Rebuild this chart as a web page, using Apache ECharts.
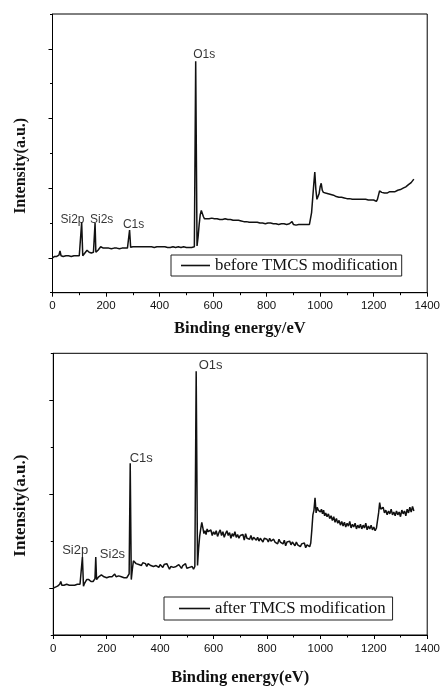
<!DOCTYPE html>
<html>
<head>
<meta charset="utf-8">
<script src="https://cdn.jsdelivr.net/npm/echarts@6/dist/echarts.min.js"></script>
<style>
html,body{margin:0;padding:0;background:#fff;}
#chart{width:443px;height:687px;}
</style>
</head>
<body>
<div id="chart"></div>
<script>
// Binding energy (eV), shared by both spectra
const energy = [
0,4,8,12,16,20,24,28,32,36,
40,45,50,55,60,65,70,75,80,85,
90,95,100,105,109,113,117,121,125,129,
133,137,141,145,149,153,156,159,162,166,
170,175,180,185,190,195,200,205,210,215,
220,225,230,235,240,245,250,255,260,265,
270,275,280,284,288,292,296,300,305,310,
315,320,325,330,335,340,345,350,355,360,
365,370,375,380,385,390,395,400,405,410,
415,420,425,430,435,440,445,450,455,460,
465,470,475,480,485,490,495,500,505,510,
515,520,525,530,535,540,544,548,552,556,
560,564,568,572,576,580,585,590,595,600,
605,610,615,620,625,630,635,640,645,650,
655,660,665,670,675,680,685,690,695,700,
705,710,715,720,725,730,735,740,745,750,
755,760,765,770,775,780,785,790,795,800,
805,810,815,820,825,830,835,840,845,850,
855,860,865,870,875,880,885,890,895,900,
905,910,915,920,925,930,935,940,945,950,
955,960,964,968,972,976,980,984,988,992,
996,1000,1004,1008,1012,1016,1020,1025,1030,1035,
1040,1045,1050,1055,1060,1065,1070,1075,1080,1085,
1090,1095,1100,1105,1110,1115,1120,1125,1130,1135,
1140,1145,1150,1155,1160,1165,1170,1175,1180,1185,
1190,1195,1200,1205,1210,1214,1218,1222,1226,1230,
1235,1240,1245,1250,1255,1260,1265,1270,1275,1280,
1285,1290,1295,1300,1305,1310,1315,1320,1325,1330,
1335,1340,1345,1350
];

// Intensity (a.u.) before TMCS modification
const intensityBefore = [
0.00,0.01,0.02,0.02,0.02,0.02,0.04,0.10,0.03,0.02,
0.02,0.02,0.03,0.02,0.03,0.03,0.02,0.03,0.03,0.03,
0.03,0.03,0.03,0.04,0.51,0.03,0.05,0.07,0.09,0.11,
0.10,0.08,0.07,0.07,0.07,0.08,0.09,0.50,0.08,0.10,
0.11,0.13,0.16,0.15,0.14,0.14,0.14,0.13,0.14,0.14,
0.13,0.14,0.14,0.13,0.14,0.14,0.13,0.14,0.14,0.13,
0.14,0.14,0.14,0.16,0.40,0.15,0.15,0.16,0.17,0.16,
0.16,0.16,0.17,0.16,0.16,0.16,0.15,0.16,0.16,0.16,
0.15,0.16,0.16,0.15,0.16,0.16,0.15,0.16,0.15,0.16,
0.15,0.16,0.15,0.15,0.16,0.15,0.15,0.16,0.15,0.15,
0.15,0.16,0.15,0.15,0.15,0.16,0.15,0.15,0.15,0.15,
0.15,0.15,0.14,0.16,2.82,0.17,0.30,0.48,0.62,0.68,
0.66,0.59,0.56,0.57,0.56,0.57,0.56,0.56,0.57,0.56,
0.56,0.55,0.56,0.56,0.55,0.56,0.55,0.55,0.56,0.55,
0.55,0.54,0.55,0.54,0.54,0.55,0.54,0.53,0.54,0.53,
0.53,0.53,0.52,0.53,0.52,0.52,0.51,0.52,0.51,0.51,
0.51,0.50,0.51,0.50,0.50,0.51,0.50,0.50,0.49,0.50,
0.50,0.49,0.50,0.49,0.49,0.50,0.49,0.49,0.48,0.49,
0.49,0.48,0.49,0.48,0.48,0.47,0.49,0.48,0.52,0.48,
0.48,0.47,0.48,0.48,0.47,0.48,0.47,0.48,0.47,0.48,
0.47,0.48,0.50,0.65,0.85,1.05,1.23,0.98,0.84,0.86,
0.92,1.02,1.07,0.97,0.94,0.95,0.93,0.94,0.92,0.92,
0.91,0.90,0.90,0.89,0.88,0.88,0.87,0.88,0.87,0.86,
0.86,0.86,0.85,0.86,0.85,0.85,0.84,0.85,0.84,0.84,
0.84,0.83,0.84,0.83,0.84,0.83,0.84,0.83,0.83,0.84,
0.83,0.84,0.83,0.84,0.81,0.84,0.90,0.96,0.95,0.94,
0.95,0.93,0.94,0.93,0.94,0.95,0.94,0.95,0.96,0.95,
0.96,0.97,0.96,0.98,0.99,1.00,1.01,1.02,1.03,1.05,
1.06,1.08,1.10,1.13
];

// Intensity (a.u.) after TMCS modification
const intensityAfter = [
0.00,0.02,0.01,0.02,0.02,0.03,0.04,0.07,0.03,0.03,
0.03,0.02,0.04,0.03,0.03,0.04,0.03,0.04,0.03,0.04,
0.04,0.03,0.04,0.05,0.33,0.02,0.05,0.07,0.09,0.08,
0.09,0.07,0.07,0.08,0.07,0.08,0.10,0.33,0.09,0.10,
0.12,0.13,0.14,0.12,0.12,0.13,0.11,0.13,0.12,0.14,
0.12,0.13,0.15,0.12,0.14,0.13,0.11,0.12,0.13,0.11,
0.12,0.11,0.12,0.15,1.33,0.09,0.20,0.29,0.27,0.26,
0.28,0.25,0.27,0.24,0.27,0.25,0.26,0.23,0.26,0.25,
0.24,0.26,0.23,0.25,0.24,0.26,0.22,0.25,0.24,0.22,
0.25,0.23,0.26,0.24,0.20,0.23,0.25,0.22,0.24,0.23,
0.22,0.25,0.23,0.21,0.24,0.22,0.26,0.21,0.23,0.22,
0.21,0.23,0.20,0.23,2.31,0.24,0.42,0.55,0.63,0.70,
0.64,0.58,0.61,0.57,0.63,0.60,0.58,0.62,0.56,0.60,
0.57,0.61,0.55,0.59,0.62,0.56,0.60,0.54,0.58,0.61,
0.56,0.59,0.53,0.58,0.55,0.60,0.54,0.57,0.53,0.56,
0.54,0.57,0.51,0.58,0.53,0.55,0.52,0.56,0.51,0.54,
0.55,0.51,0.54,0.50,0.53,0.55,0.49,0.53,0.51,0.52,
0.49,0.53,0.50,0.48,0.52,0.49,0.51,0.47,0.52,0.49,
0.50,0.47,0.51,0.45,0.49,0.47,0.50,0.46,0.49,0.47,
0.45,0.49,0.46,0.48,0.44,0.47,0.45,0.48,0.43,0.46,
0.45,0.44,0.48,0.62,0.78,0.83,0.96,0.80,0.86,0.83,
0.85,0.81,0.84,0.79,0.83,0.77,0.80,0.76,0.79,0.74,
0.77,0.72,0.76,0.70,0.74,0.69,0.72,0.67,0.71,0.66,
0.70,0.65,0.69,0.66,0.71,0.64,0.68,0.65,0.69,0.63,
0.67,0.64,0.68,0.63,0.67,0.64,0.69,0.62,0.66,0.63,
0.67,0.62,0.65,0.61,0.64,0.62,0.80,0.91,0.84,0.82,
0.86,0.80,0.83,0.78,0.82,0.79,0.84,0.78,0.81,0.77,
0.82,0.78,0.81,0.76,0.83,0.79,0.82,0.77,0.84,0.80,
0.86,0.81,0.87,0.82
];

// Peak annotations
const peakNames = ['Si2p', 'Si2s', 'C1s', 'O1s'];
const peakEnergy = [109, 159, 288, 535];
const peakBefore = [0.51, 0.50, 0.40, 2.82];
const peakAfter = [0.33, 0.33, 1.33, 2.31];

// Axis tick values
const xTickLabels = [0, 200, 400, 600, 800, 1000, 1200, 1400];
const yMajorBefore = [0, 1, 2, 3];
const yMinorBefore = [-0.5, 0.5, 1.5, 2.5, 3.5];
const yMajorAfter = [0, 1, 2];
const yMinorAfter = [-0.5, 0.5, 1.5, 2.5];

const seriesNames = ['before TMCS modification', 'after TMCS modification'];
const xTitles = ['Binding energy/eV', 'Binding energy(eV)'];
const yTitle = 'Intensity(a.u.)';

// ---- styling (not data) ----
const labelOffsetsBefore = [[-9.2, 3.1], [6.6, 2.4], [4, 1], [8.5, -0.8]];
const labelOffsetsAfter = [[-7.2, 0], [16.7, 3.9], [11, 1.4], [14.4, 0.9]];

const SANS = 'Liberation Sans, Arial, sans-serif';
const SERIF = 'Liberation Serif, Times New Roman, serif';
const INK = '#111';

function pairs(xs, ys) { return xs.map((x, i) => [x, ys[i]]); }

function xAxisFor(gi, title, gap, margin) {
  return {
    type: 'value', gridIndex: gi, min: 0, max: 1400, interval: 200,
    axisLine: { show: true, onZero: false, lineStyle: { color: '#000', width: 1 } },
    axisTick: { show: true, inside: false, length: 4, lineStyle: { color: '#000' } },
    minorTick: { show: true, splitNumber: 2, length: 2.5, lineStyle: { color: '#000' } },
    axisLabel: { show: true, fontSize: 11.5, fontFamily: SANS, color: '#111', margin: margin,
      formatter: function (v) { return xTickLabels.indexOf(v) >= 0 ? String(v) : ''; } },
    splitLine: { show: false }, minorSplitLine: { show: false },
    name: title, nameLocation: 'middle', nameGap: gap,
    nameTextStyle: { fontFamily: SERIF, fontWeight: 'bold', fontSize: 16.5, color: INK }
  };
}

function yAxesFor(gi, max, major, minor, nameSize, gap, shift) {
  return [{
    type: 'value', gridIndex: gi, min: -0.5, max: max, interval: 0.5, position: 'left',
    axisLine: { show: true, onZero: false, lineStyle: { color: '#000', width: 1 } },
    axisTick: { show: true, inside: false, length: 4, customValues: major, lineStyle: { color: '#000' } },
    axisLabel: { show: false },
    splitLine: { show: false },
    name: yTitle, nameLocation: 'middle', nameGap: gap, nameRotate: 90,
    nameTextStyle: { fontFamily: SERIF, fontWeight: 'bold', fontSize: nameSize, color: INK,
      padding: [0, shift, 0, 0] }
  }, {
    type: 'value', gridIndex: gi, min: -0.5, max: max, interval: 0.5, position: 'left', offset: 0,
    axisLine: { show: false },
    axisTick: { show: true, inside: false, length: 2.5, customValues: minor, lineStyle: { color: '#000' } },
    axisLabel: { show: false },
    splitLine: { show: false }
  }];
}

function peakSeries(xi, yi, heights, offsets, size) {
  return {
    type: 'scatter', xAxisIndex: xi, yAxisIndex: yi, symbolSize: 0, silent: true,
    data: peakEnergy.map((e, i) => ({
      value: [e, heights[i]], name: peakNames[i],
      label: { offset: offsets[i] }
    })),
    label: { show: true, position: 'top', distance: 0, formatter: '{b}',
      fontFamily: SANS, fontSize: size, color: '#000' },
    z: 5
  };
}

const chart = echarts.init(document.getElementById('chart'), null, { renderer: 'canvas' });
const yA = yAxesFor(0, 3.5, yMajorBefore, yMinorBefore, 16, 24, 25);
const yB = yAxesFor(1, 2.5, yMajorAfter, yMinorAfter, 17, 24, 23);

chart.setOption({
  animation: false,
  backgroundColor: '#fff',
  grid: [
    { left: 52.5, top: 14, right: 11.3, height: 278.7, show: true, borderColor: '#000', borderWidth: 1, backgroundColor: 'transparent' },
    { left: 53.3, top: 353.3, right: 8.7, height: 286.7, show: true, borderColor: '#000', borderWidth: 1, backgroundColor: 'transparent' }
  ],
  xAxis: [xAxisFor(0, xTitles[0], 28, 7), xAxisFor(1, xTitles[1], 34, 8)],
  yAxis: [yA[0], yA[1], yB[0], yB[1]],
  legend: [
    { data: [{ name: seriesNames[0], icon: 'rect' }], left: 171, top: 255, orient: 'horizontal',
      borderColor: '#222', borderWidth: 1, borderRadius: 0, padding: [2, 4, 2, 10],
      itemWidth: 29, itemHeight: 1.6, itemGap: 5, selectedMode: false,
      itemStyle: { color: INK },
      textStyle: { fontFamily: SERIF, fontSize: 16.8, color: INK } },
    { data: [{ name: seriesNames[1], icon: 'rect' }], left: 164, top: 597, orient: 'horizontal',
      borderColor: '#222', borderWidth: 1, borderRadius: 0, padding: [3, 7, 3, 15],
      itemWidth: 31, itemHeight: 1.6, itemGap: 3, selectedMode: false,
      itemStyle: { color: INK },
      textStyle: { fontFamily: SERIF, fontSize: 16.8, color: INK } }
  ],
  series: [
    { name: seriesNames[0], type: 'line', xAxisIndex: 0, yAxisIndex: 0,
      data: pairs(energy, intensityBefore), symbol: 'none', showSymbol: false,
      lineStyle: { color: INK, width: 1.5 }, itemStyle: { color: INK } },
    { name: seriesNames[1], type: 'line', xAxisIndex: 1, yAxisIndex: 2,
      data: pairs(energy, intensityAfter), symbol: 'none', showSymbol: false,
      lineStyle: { color: INK, width: 1.5 }, itemStyle: { color: INK } },
    peakSeries(0, 0, peakBefore, labelOffsetsBefore, 12),
    peakSeries(1, 2, peakAfter, labelOffsetsAfter, 13)
  ]
});
</script>
</body>
</html>
